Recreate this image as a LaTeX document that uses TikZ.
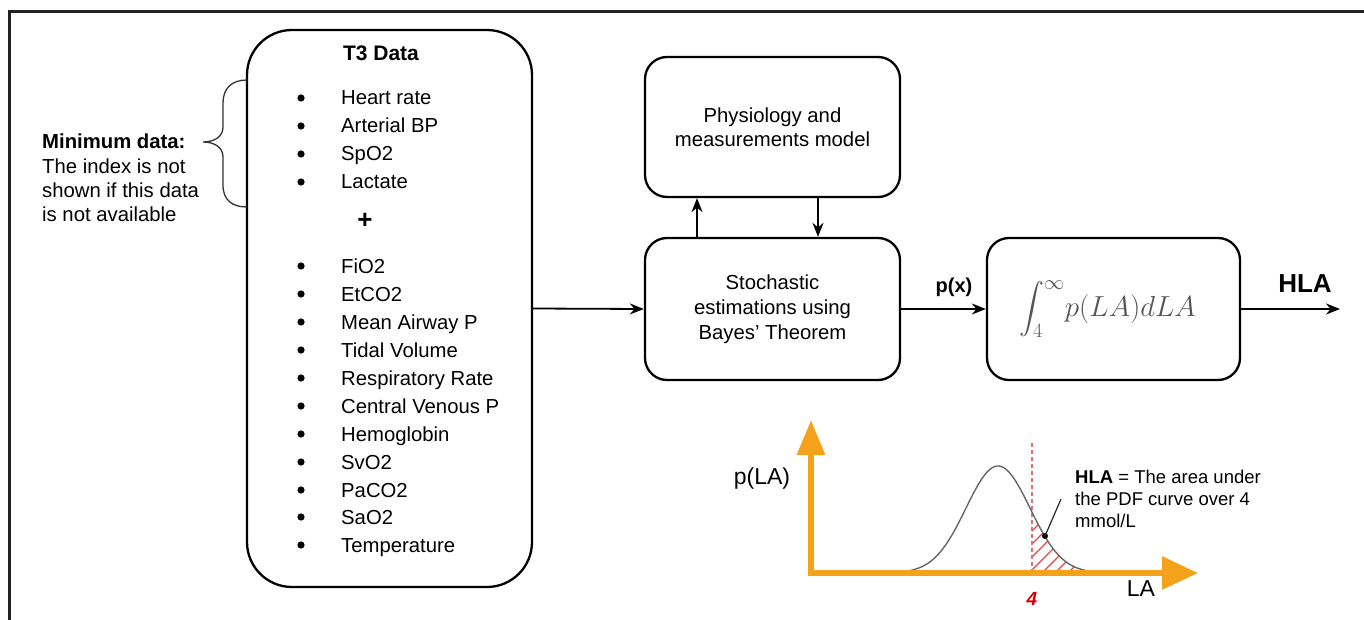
\documentclass[tikz,border=0pt]{standalone}
\usepackage{fix-cm}
\usepackage{amsmath}
\usepackage{fontspec}
\setmainfont{Liberation Sans}
\usetikzlibrary{arrows.meta}
\definecolor{axorange}{HTML}{F5A21B}
\definecolor{hatchred}{HTML}{E04848}
\definecolor{framegray}{HTML}{222222}
\definecolor{intgray}{HTML}{555555}
\begin{document}
\begin{tikzpicture}[x=1pt,y=-1pt,
  box/.style={draw, line width=2.3pt, rounded corners=22pt, align=center, inner sep=0pt},
  arr/.style={line width=1.8pt, -{Stealth[length=14pt,width=11pt]}},
  item/.style={anchor=base west, inner sep=0pt, font=\fontsize{20.3}{24}\selectfont},
  boxtext/.style={font=\fontsize{20.3}{24}\selectfont},
]
\useasboundingbox (0,0) rectangle (1364,620);
% frame
\draw[framegray, line width=3pt] (1364,11.3) -- (9.3,11.3) -- (9.3,620);
% T3 box
\node[box, rounded corners=45pt, minimum width=285pt, minimum height=557pt] (t3) at (389.5,308.5) {};
\node[font=\bfseries\fontsize{21}{24}\selectfont, anchor=base, inner sep=0pt] (t3title) at (381,60.5) {T3 Data};
\foreach \t/\y [count=\i] in {Heart rate/98, Arterial BP/126, SpO2/154, Lactate/182,
  FiO2/266, EtCO2/294, Mean Airway P/322, Tidal Volume/350, Respiratory Rate/378,
  Central Venous P/406, Hemoglobin/434, SvO2/462, PaCO2/490, SaO2/517, Temperature/545}{
  \fill (301,\y) circle (3.6pt);
  \node[item] (it\i) at (341,\y+7) {\t};
}
\node[font=\bfseries\fontsize{26}{30}\selectfont, inner sep=0pt] (plus) at (365,221) {+};
% minimum data
\node[item, font=\bfseries\fontsize{20.3}{24}\selectfont] (md1) at (42,149) {Minimum data:};
\node[item] (md2) at (42,174) {The index is not};
\node[item] (md3) at (42,198) {shown if this data};
\node[item] (md4) at (42,222) {is not available};
\draw[line width=1.3pt, black!80] (247,80) .. controls (232,80) and (223,88) .. (223,103) -- (223,127)
  .. controls (223,137) and (214,142) .. (203,142)
  .. controls (214,142) and (223,147) .. (223,157) -- (223,185)
  .. controls (223,200) and (232,207) .. (247,207);
% boxes
\node[box, boxtext, minimum width=255pt, minimum height=140pt] (phys) at (772.5,127) {Physiology and\\measurements model};
\node[box, boxtext, font=\fontsize{20.3}{25}\selectfont, minimum width=255pt, minimum height=142pt] (stoch) at (772.5,309) {Stochastic\\estimations using\\Bayes' Theorem};
\node[box, minimum width=253pt, minimum height=142pt] (intg) at (1113.5,309)
  {\color{intgray}\fontsize{29}{34}\selectfont$\displaystyle\int_4^{\infty}\! p(LA)dLA$\kern12pt};
% connectors
\draw[arr] (t3.east) -- (stoch.west);
\coordinate (ux) at (697,0);
\coordinate (dx) at (818,0);
\draw[arr] (stoch.north -| ux) -- (phys.south -| ux);
\draw[arr] (phys.south -| dx) -- (stoch.north -| dx);
\draw[arr] (stoch.east) -- (intg.west);
\coordinate (hlaend) at (1340,309);
\draw[arr] (intg.east) -- (hlaend);
\node[font=\bfseries\fontsize{20}{24}\selectfont] (px) at (954,287) {p(x)};
\node[font=\bfseries\fontsize{26}{30}\selectfont] (hla) at (1305,284) {HLA};
% graph
\begin{scope}
  \clip (1032,573) -- plot[domain=1032:1093, samples=40] (\x, {573-107*exp(0-0.5*pow((\x-998)/32,2))}) -- (1093,573) -- cycle;
  \foreach \a in {960,973,...,1100}
    \draw[hatchred, line width=1.1pt] (\a,590) -- (\a+70,520);
\end{scope}
\draw[hatchred!80, line width=1.2pt, dash pattern=on 4pt off 3pt] (1032,443) -- (1032,573);
\draw[black!60, line width=1.4pt] plot[domain=903:1093, samples=90, smooth] (\x, {573-107*exp(0-0.5*pow((\x-998)/32,2))});
\fill (1045,536) circle (3pt);
\draw[line width=1.2pt, black!85] (1045,536) -- (1061,499);
\draw[axorange, line width=6pt, line join=miter, {Triangle[length=35pt,width=27pt]}-{Triangle[length=36pt,width=32pt]}] (811,420) -- (811,573) -- (1198,573);
\node[font=\fontsize{23}{26}\selectfont] (pla) at (762,479) {p(LA)};
\node[font=\fontsize{23}{26}\selectfont] (la) at (1141,589) {LA};
\node[font=\bfseries\itshape\fontsize{19}{22}\selectfont, text=red!85!black] (four) at (1032,599) {4};
\node[item, font=\fontsize{18.5}{20}\selectfont] (an1) at (1075,483) {\textbf{HLA} = The area under};
\node[item, font=\fontsize{18.5}{20}\selectfont] (an2) at (1075,505) {the PDF curve over 4};
\node[item, font=\fontsize{18.5}{20}\selectfont] (an3) at (1075,527) {mmol/L};
\end{tikzpicture}
\end{document}
